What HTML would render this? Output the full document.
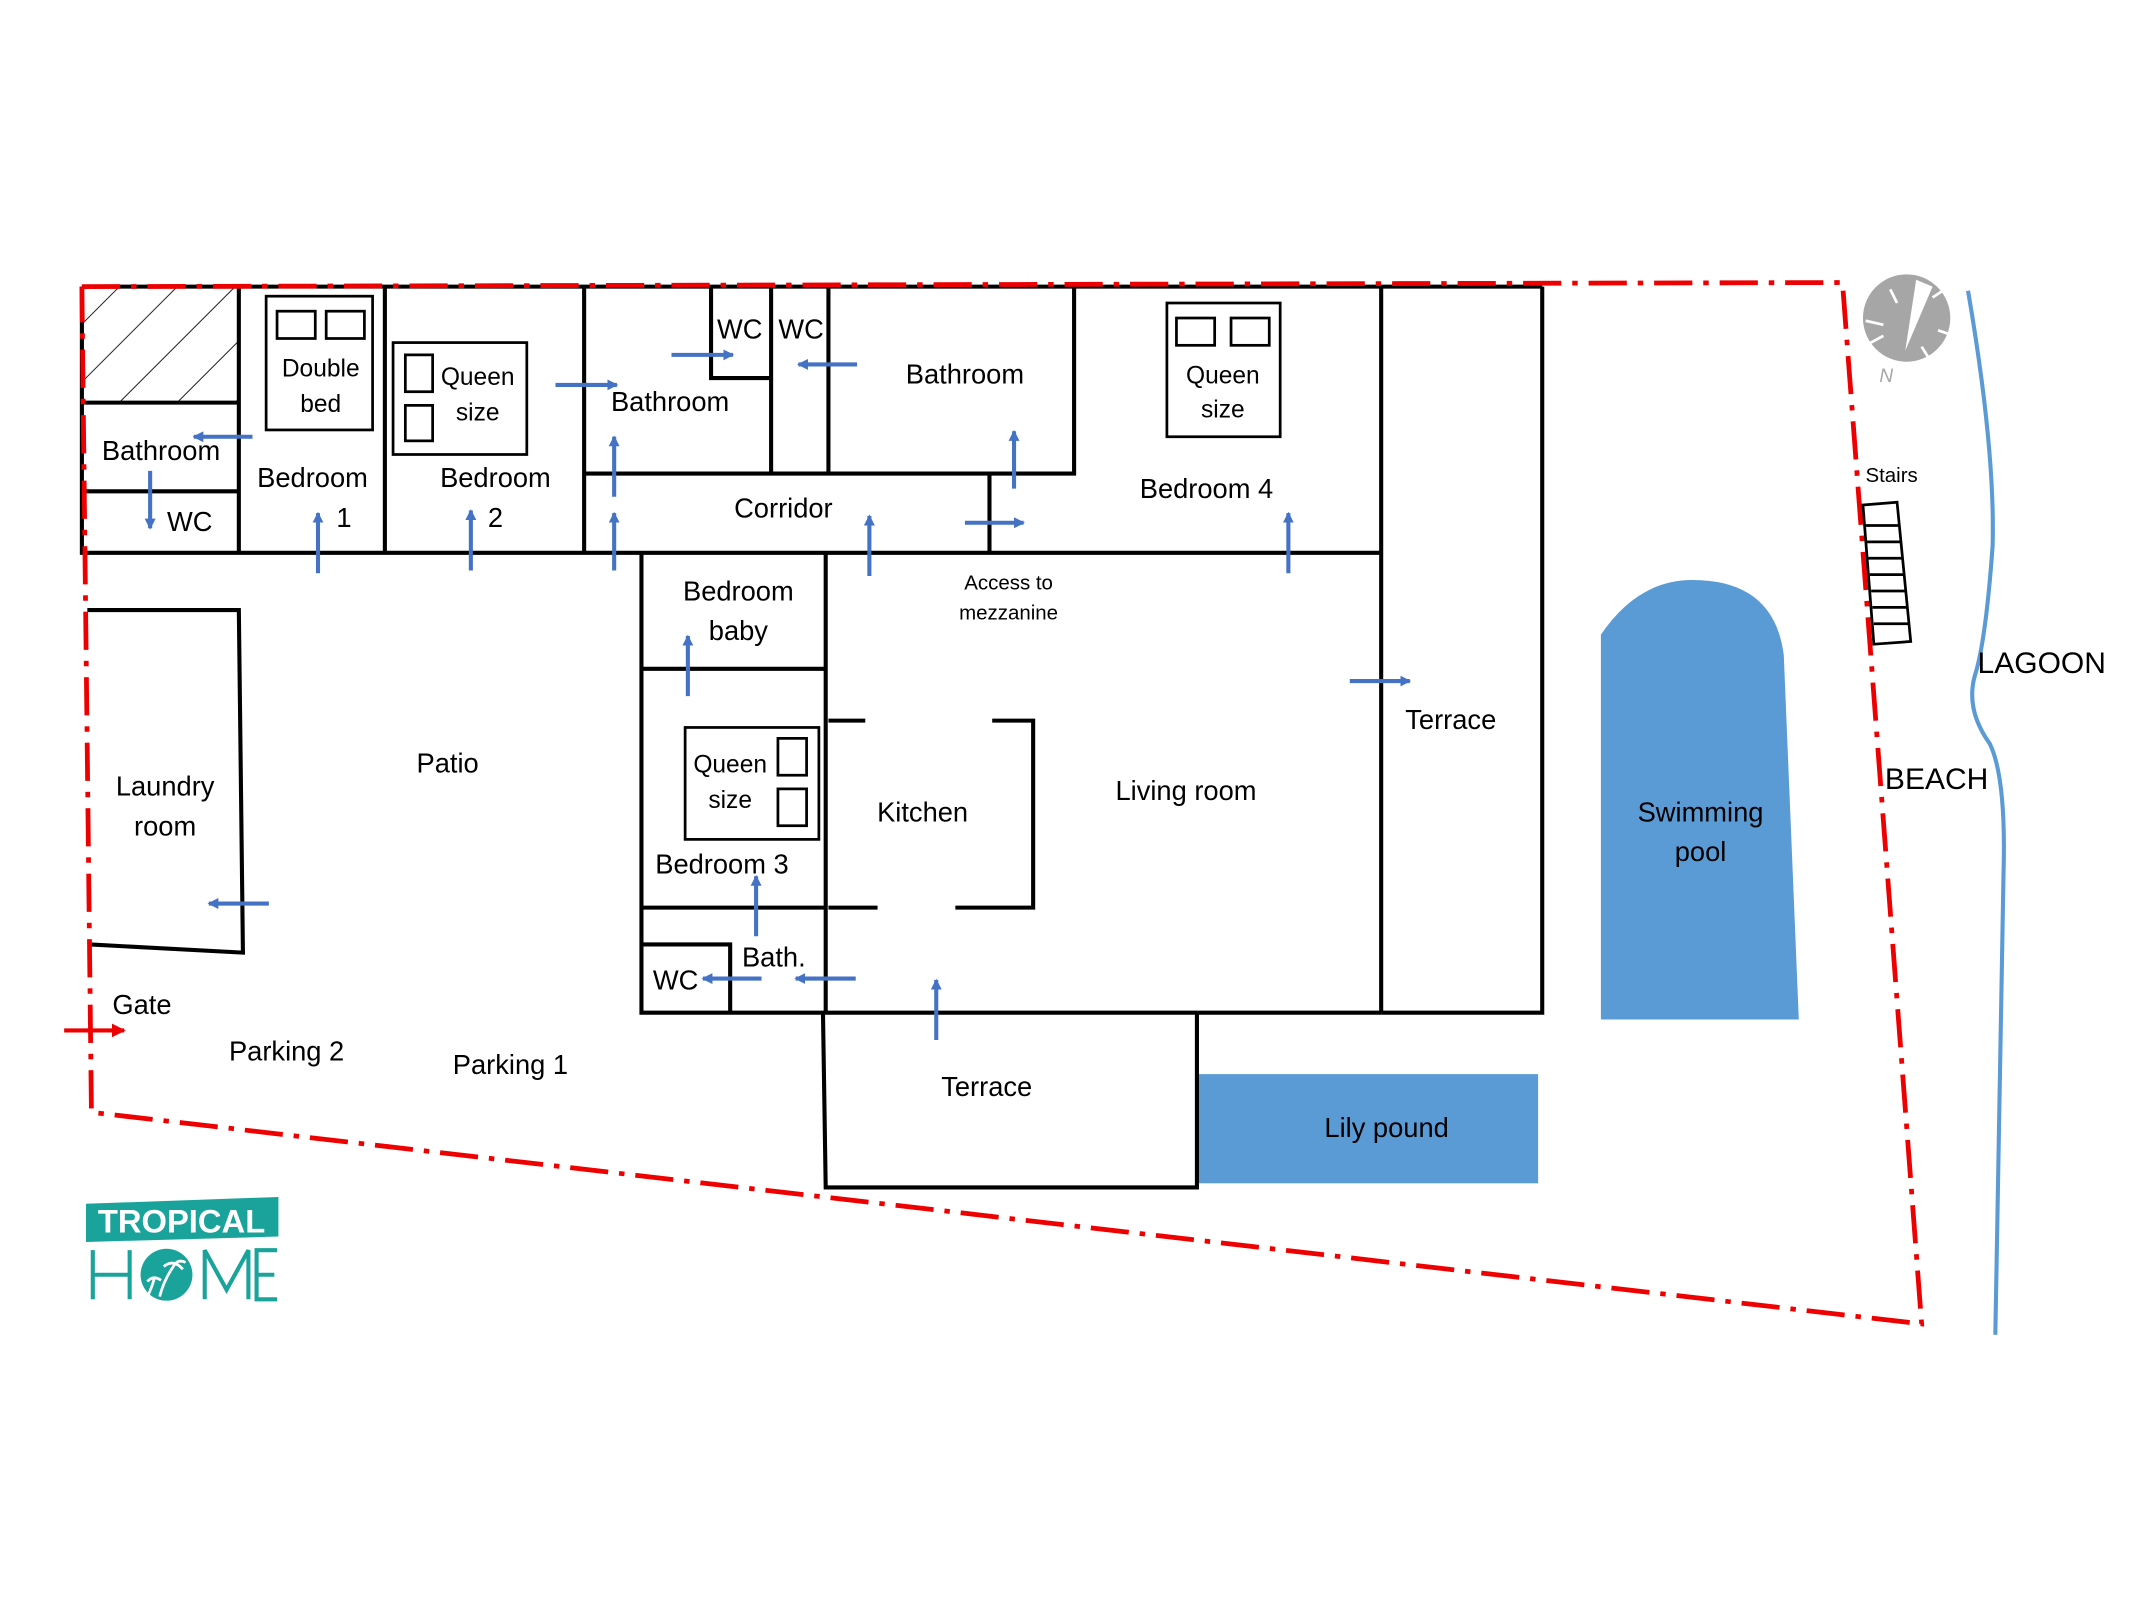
<!DOCTYPE html>
<html><head><meta charset="utf-8"><style>html,body{margin:0;padding:0;background:#fff}svg{display:block}text{font-family:"Liberation Sans",sans-serif;fill:#000}</style></head>
<body>
<svg width="2140" height="1603" viewBox="0 0 1568 1174.5" xmlns="http://www.w3.org/2000/svg">
<defs>
<marker id="a" markerWidth="8" markerHeight="8" refX="7" refY="4" orient="auto" markerUnits="userSpaceOnUse"><path d="M0,0 L8,4 L0,8 z" fill="#4472c4"/></marker>
<marker id="r" markerWidth="10" markerHeight="10" refX="9" refY="5" orient="auto" markerUnits="userSpaceOnUse"><path d="M0,0 L10,5 L0,10 z" fill="#e00"/></marker>
<pattern id="h" width="30" height="30" patternUnits="userSpaceOnUse" patternTransform="rotate(-45)"><line x1="0" y1="0" x2="30" y2="0" stroke="#000" stroke-width="1.2"/></pattern>
</defs>
<rect x="61" y="211" width="114" height="84" fill="url(#h)"/>
<path d="M1173,747 L1173,465 Q1200,425 1240,425 Q1300,425 1307,480 L1318,747 Z" fill="#5b9bd5"/>
<rect x="877" y="787" width="250" height="80" fill="#5b9bd5"/>
<g stroke="#000" stroke-width="3" fill="none">
<path d="M60,210 L1130,210"/>
<path d="M60,210 L60,405 L470,405"/>
<path d="M60,295 H175 M60,360 H175"/>
<path d="M175,210 V405 M282,210 V405 M428,210 V405"/>
<rect x="195" y="217" width="78" height="98" stroke-width="2"/>
<rect x="203" y="228" width="28" height="20" stroke-width="2"/>
<rect x="239" y="228" width="28" height="20" stroke-width="2"/>
<rect x="288" y="251" width="98" height="82" stroke-width="2"/>
<rect x="297" y="260" width="20" height="27" stroke-width="2"/>
<rect x="297" y="297" width="20" height="26" stroke-width="2"/>
<path d="M521,210 V277 H565 M565,210 V347 M607,210 V347 M787,210 V347 H428 M725,347 V405"/>
<rect x="855" y="222" width="83" height="98" stroke-width="2"/>
<rect x="862" y="233" width="28" height="20" stroke-width="2"/>
<rect x="902" y="233" width="28" height="20" stroke-width="2"/>
<path d="M470,405 H1012 M1012,210 V742 M1130,210 V742 H1012"/>
<path d="M470,405 V742 H1012 M605,405 V742 M470,490 H605 M470,665 H605"/>
<rect x="502" y="533" width="98" height="82" stroke-width="2"/>
<rect x="570" y="541" width="21" height="27" stroke-width="2"/>
<rect x="570" y="578" width="21" height="27" stroke-width="2"/>
<path d="M470,692 H535 V742"/>
<path d="M607,528 H634 M727,528 H757 V665 H700 M607,665 H643"/>
<path d="M603,742 L605,870 H877 V742"/>
<path d="M64,447 H175 L178,698 L66,692"/>
</g>
<path d="M60,210 L1350,207 L1408,970 L67,815 L60,210" stroke="#e00" stroke-width="3.5" fill="none" stroke-dasharray="28,8,4,8"/>
<path d="M1442,213 Q1462,330 1460,400 Q1455,470 1447,495 Q1440,520 1458,545 Q1470,570 1468,640 L1462,978" stroke="#5b9bd5" stroke-width="3" fill="none"/>
<g stroke="#000" stroke-width="2" fill="none">
<path d="M1365,370 L1390,368 L1400,470 L1373,472 Z"/>
<path d="M1367,385 H1392 M1368,397 H1393 M1369,409 H1394 M1370,421 H1395 M1371,433 H1396 M1372,445 H1397 M1373,457 H1398"/>
</g>
<circle cx="1397" cy="233" r="32" fill="#a6a6a6"/>
<path d="M1404,205 L1416,210 L1396,257 Z" fill="#fff"/>
<g stroke="#fff" stroke-width="2"><path d="M1385,212 L1390,222 M1367,235 L1380,238 M1369,252 L1380,246 M1420,242 L1429,245 M1416,218 L1425,212 M1408,254 L1413,262"/></g>
<text x="1377" y="280" font-size="14" font-style="italic" style="fill:#a6a6a6">N</text>
<g stroke="#4472c4" stroke-width="3" marker-end="url(#a)">
<line x1="185" y1="320" x2="142" y2="320"/>
<line x1="110" y1="345" x2="110" y2="387"/>
<line x1="233" y1="420" x2="233" y2="376"/>
<line x1="345" y1="418" x2="345" y2="374"/>
<line x1="407" y1="282" x2="452" y2="282"/>
<line x1="450" y1="364" x2="450" y2="320"/>
<line x1="450" y1="418" x2="450" y2="376"/>
<line x1="492" y1="260" x2="537" y2="260"/>
<line x1="628" y1="267" x2="585" y2="267"/>
<line x1="743" y1="358" x2="743" y2="316"/>
<line x1="707" y1="383" x2="750" y2="383"/>
<line x1="637" y1="422" x2="637" y2="378"/>
<line x1="944" y1="420" x2="944" y2="376"/>
<line x1="989" y1="499" x2="1033" y2="499"/>
<line x1="504" y1="510" x2="504" y2="466"/>
<line x1="554" y1="686" x2="554" y2="642"/>
<line x1="197" y1="662" x2="153" y2="662"/>
<line x1="558" y1="717" x2="515" y2="717"/>
<line x1="627" y1="717" x2="583" y2="717"/>
<line x1="686" y1="762" x2="686" y2="718"/>
</g>
<line x1="47" y1="755" x2="91" y2="755" stroke="#e00" stroke-width="3" marker-end="url(#r)"/>
<g font-size="20" text-anchor="middle">
<text x="235" y="276" font-size="18">Double</text><text x="235" y="302" font-size="18">bed</text>
<text x="350" y="282" font-size="18">Queen</text><text x="350" y="308" font-size="18">size</text>
<text x="118" y="337">Bathroom</text>
<text x="139" y="389">WC</text>
<text x="229" y="357">Bedroom</text><text x="252" y="386">1</text>
<text x="363" y="357">Bedroom</text><text x="363" y="386">2</text>
<text x="491" y="301">Bathroom</text>
<text x="542" y="248">WC</text><text x="587" y="248">WC</text>
<text x="707" y="281">Bathroom</text>
<text x="896" y="281" font-size="18">Queen</text><text x="896" y="306" font-size="18">size</text>
<text x="884" y="365">Bedroom 4</text>
<text x="574" y="379">Corridor</text>
<text x="739" y="432" font-size="15">Access to</text><text x="739" y="454" font-size="15">mezzanine</text>
<text x="541" y="440">Bedroom</text><text x="541" y="469">baby</text>
<text x="535" y="566" font-size="18">Queen</text><text x="535" y="592" font-size="18">size</text>
<text x="529" y="640">Bedroom 3</text>
<text x="567" y="708">Bath.</text>
<text x="495" y="725">WC</text>
<text x="676" y="602">Kitchen</text>
<text x="869" y="586">Living room</text>
<text x="1063" y="534">Terrace</text>
<text x="328" y="566">Patio</text>
<text x="121" y="583">Laundry</text><text x="121" y="612">room</text>
<text x="104" y="743">Gate</text>
<text x="210" y="777">Parking 2</text>
<text x="374" y="787">Parking 1</text>
<text x="723" y="803">Terrace</text>
<text x="1016" y="833">Lily pound</text>
<text x="1246" y="602">Swimming</text><text x="1246" y="631">pool</text>
<text x="1386" y="353" font-size="15">Stairs</text>
<text x="1496" y="493" font-size="22">LAGOON</text>
<text x="1419" y="578" font-size="22">BEACH</text>
</g>
<path d="M63,882 L204,877 L204,906 L63,910 Z" fill="#1aa39a"/>
<text x="133" y="903" text-anchor="middle" font-size="24" font-weight="bold" style="fill:#fff">TROPICAL</text>
<g stroke="#1aa39a" stroke-width="3" fill="none"><path d="M68,916 V952 M95,916 V952 M68,934 H95 M150,952 V916 L166,945 L182,916 V952 M203,916 H188 V952 H203 M188,934 H201"/></g>
<circle cx="122" cy="934" r="19" fill="#1aa39a"/>
<path d="M117,950 Q120,938 127,928 M108,950 Q111,944 113,937" stroke="#fff" stroke-width="2" fill="none"/>
<path d="M120,928 Q127,922 134,930 M127,928 Q130,922 136,925 M108,939 Q112,934 118,938" stroke="#fff" stroke-width="2" fill="none"/>
</svg>
</body></html>
